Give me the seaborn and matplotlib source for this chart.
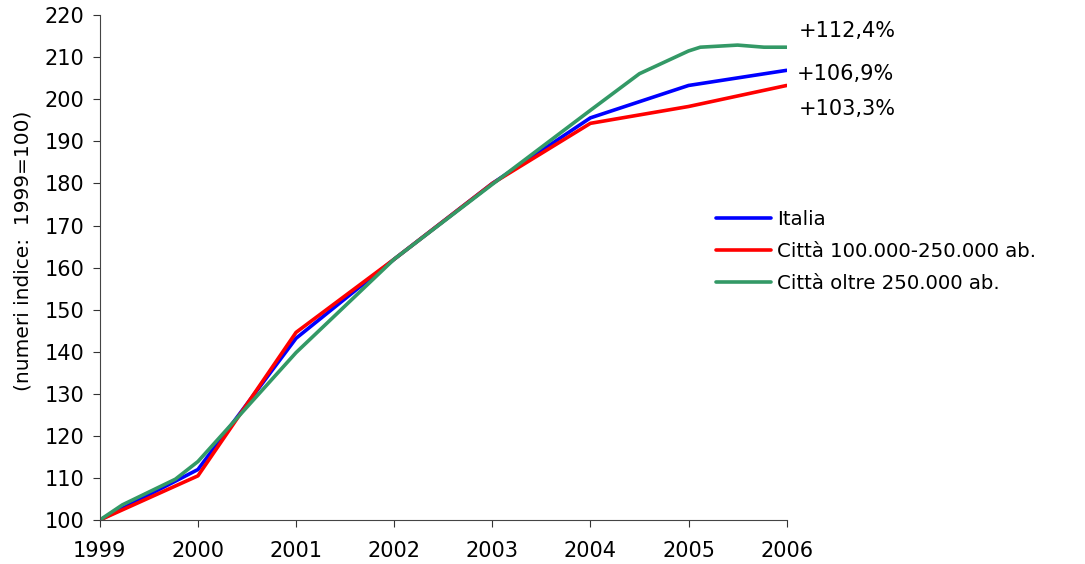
import pandas as pd
import matplotlib.pyplot as plt
import seaborn as sns

# dati (numeri indice, 1999=100)
anni = [1999, 2000, 2001, 2002, 2003, 2004, 2005, 2006]
italia = [100, 112.0, 143.2, 162.0, 180.0, 195.6, 203.3, 206.9]
citta_medie = [100, 110.5, 144.6, 162.0, 180.0, 194.3, 198.3, 203.3]

anni_grandi = [1999, 1999.23, 1999.77, 2000, 2001, 2002, 2003, 2004, 2004.5,
               2005, 2005.12, 2005.5, 2005.77, 2006]
citta_grandi = [100, 103.6, 109.7, 113.9, 139.8, 162.0, 179.8, 197.4, 206.1,
                211.5, 212.4, 212.9, 212.4, 212.4]

nomi = ['Italia', 'Città 100.000-250.000 ab.', 'Città oltre 250.000 ab.']
colori = ['#0000FF', '#FF0000', '#339966']
etichette = ['+106,9%', '+103,3%', '+112,4%']

df = pd.concat([
    pd.DataFrame({'anno': anni, 'indice': italia, 'serie': nomi[0]}),
    pd.DataFrame({'anno': anni, 'indice': citta_medie, 'serie': nomi[1]}),
    pd.DataFrame({'anno': anni_grandi, 'indice': citta_grandi, 'serie': nomi[2]}),
])

sns.set_theme(style="ticks")
plt.rcParams['font.family'] = ['DejaVu Sans']
plt.rcParams['text.color'] = 'black'

fig = plt.figure(figsize=(10.85, 5.64), dpi=100)
ax = fig.add_axes([0.092, 0.078, 0.633, 0.895])

sns.lineplot(data=df, x='anno', y='indice', hue='serie', hue_order=nomi,
             palette=colori, linewidth=2.6, sort=False, ax=ax, legend=True)

ax.set_xlim(1999, 2006)
ax.set_ylim(100, 220)
ax.set_xticks(anni)
ax.set_xticklabels([str(a) for a in anni])
ax.set_yticks(range(100, 221, 10))
ax.tick_params(axis='both', labelsize=15, length=5, width=0.8,
               direction='out', colors='#333333', labelcolor='black')
ax.tick_params(axis='x', pad=10)
ax.tick_params(axis='y', pad=6)
for lato in ['top', 'right']:
    ax.spines[lato].set_visible(False)
for lato in ['left', 'bottom']:
    ax.spines[lato].set_color('#444444')
    ax.spines[lato].set_linewidth(0.8)

ax.set_xlabel('')
ax.set_ylabel('')
fig.text(0.021, 0.555, '(numeri indice:  1999=100)', fontsize=14.5,
         rotation=90, ha='center', va='center', color='black')

# etichette finali
finali = [italia[-1], citta_medie[-1], citta_grandi[-1]]
offset = [(7, -3), (9, -17), (9, 11.5)]
for val, testo, off in zip(finali, etichette, offset):
    ax.annotate(testo, xy=(2006, val), xytext=off, textcoords='offset points',
                fontsize=15, va='center', ha='left', color='black',
                annotation_clip=False)

leg = ax.legend(loc='upper left', bbox_to_anchor=(0.66, 0.628),
                bbox_transform=fig.transFigure,
                frameon=False, fontsize=14.2, handlelength=2.8,
                handletextpad=0.3, labelspacing=0.66, borderaxespad=0,
                borderpad=0)
for testo in leg.get_texts():
    testo.set_color('black')
for linea in leg.get_lines():
    linea.set_linewidth(2.6)

fig.savefig('out.png', dpi=100)
